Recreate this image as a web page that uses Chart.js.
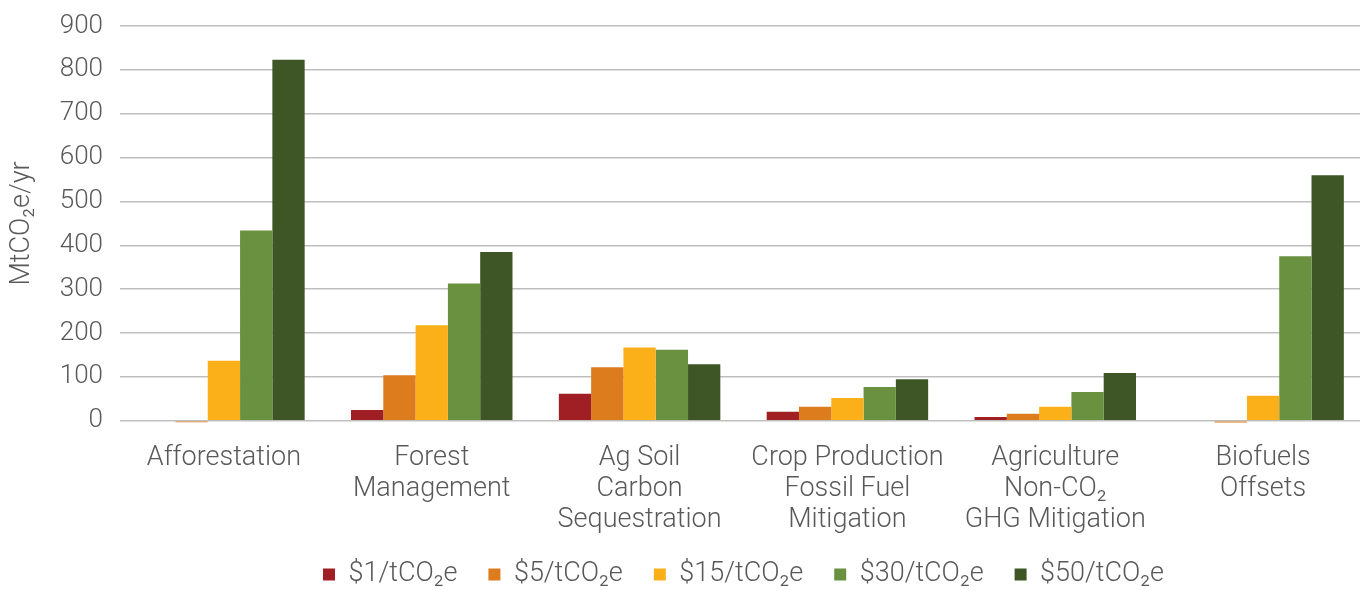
<!DOCTYPE html>
<html>
<head>
<meta charset="utf-8">
<script src="https://cdn.jsdelivr.net/npm/chart.js@4.4.1/dist/chart.umd.min.js"></script>
<style>
  html, body { margin: 0; padding: 0; background: #fff; overflow: hidden; }
  .wrap { width: 1372px; height: 590px; }
</style>
</head>
<body>
<div class="wrap">
  <canvas id="grafico" width="1372" height="590"></canvas>
</div>
<script>
const categorias = [
  ["Afforestation"],
  ["Forest", "Management"],
  ["Ag Soil", "Carbon", "Sequestration"],
  ["Crop Production", "Fossil Fuel", "Mitigation"],
  ["Agriculture", "Non-CO₂", "GHG Mitigation"],
  ["Biofuels", "Offsets"],
];
const precos = ["$1/tCO₂e", "$5/tCO₂e", "$15/tCO₂e", "$30/tCO₂e", "$50/tCO₂e"];
const preco1 = [0, 25, 62, 21, 9, 0];
const preco5 = [-3, 104, 122, 32, 16, -4];
const preco15 = [137, 218, 167, 52, 32, 57];
const preco30 = [434, 313, 162, 77, 66, 375];
const preco50 = [823, 385, 129, 95, 109, 560];
const ticksY = [0, 100, 200, 300, 400, 500, 600, 700, 800, 900];
const cores = ["#A01F24", "#DC7C1C", "#FBB01A", "#6A9140", "#3E5526"];

const fonte = "Roboto, 'Liberation Sans', sans-serif";
const cinza = "#595959";
const encolheX = 28;

// y axis title drawn by hand, close to the left edge like the original
const tituloY = {
  id: "tituloY",
  afterLayout(chart) {
    // the x axis was shrunk to pull the legend up; give its labels room again
    chart.scales.x.bottom += encolheX;
  },
  afterDraw(chart) {
    const area = chart.chartArea;
    const ctx = chart.ctx;
    ctx.save();
    ctx.translate(22, (area.top + area.bottom) / 2);
    ctx.rotate(-Math.PI / 2);
    ctx.font = "300 27px " + fonte;
    ctx.fillStyle = cinza;
    ctx.textAlign = "center";
    ctx.textBaseline = "middle";
    ctx.fillText("MtCO₂e/yr", 0, 0);
    ctx.restore();
  },
};

const series = [preco1, preco5, preco15, preco30, preco50];

const ctx = document.getElementById("grafico").getContext("2d");
new Chart(ctx, {
  type: "bar",
  data: {
    labels: categorias,
    datasets: series.map((valores, i) => ({
      label: precos[i],
      data: valores,
      backgroundColor: cores[i],
      borderWidth: 0,
      categoryPercentage: 0.777,
      barPercentage: 1,
      clip: false,
    })),
  },
  options: {
    responsive: false,
    animation: false,
    layout: { padding: { top: 26, right: 5, bottom: -8, left: 0 } },
    plugins: {
      tooltip: { enabled: false },
      legend: {
        position: "bottom",
        fullSize: false,
        labels: {
          boxWidth: 12,
          boxHeight: 12,
          padding: 31,
          color: cinza,
          font: { family: fonte, size: 27, weight: "300" },
        },
      },
    },
    scales: {
      x: {
        afterFit(scale) { scale.height -= encolheX; },
        grid: { display: false, drawTicks: false },
        border: { display: false },
        ticks: {
          color: cinza,
          padding: 22,
          maxRotation: 0,
          autoSkip: false,
          font: { family: fonte, size: 27, weight: "300", lineHeight: 1.15 },
        },
      },
      y: {
        min: 0,
        max: 900,
        afterFit(scale) {
          scale.width = 120;
          scale.paddingTop = 0;
          scale.paddingBottom = 0;
        },
        afterBuildTicks(scale) { scale.ticks = ticksY.map((v) => ({ value: v })); },
        grid: { color: "#BFBFBF", lineWidth: 1.5, drawTicks: false },
        border: { display: false },
        ticks: {
          color: cinza,
          padding: 17,
          font: { family: fonte, size: 26, weight: "300" },
        },
      },
    },
  },
  plugins: [tituloY],
});
</script>
</body>
</html>
